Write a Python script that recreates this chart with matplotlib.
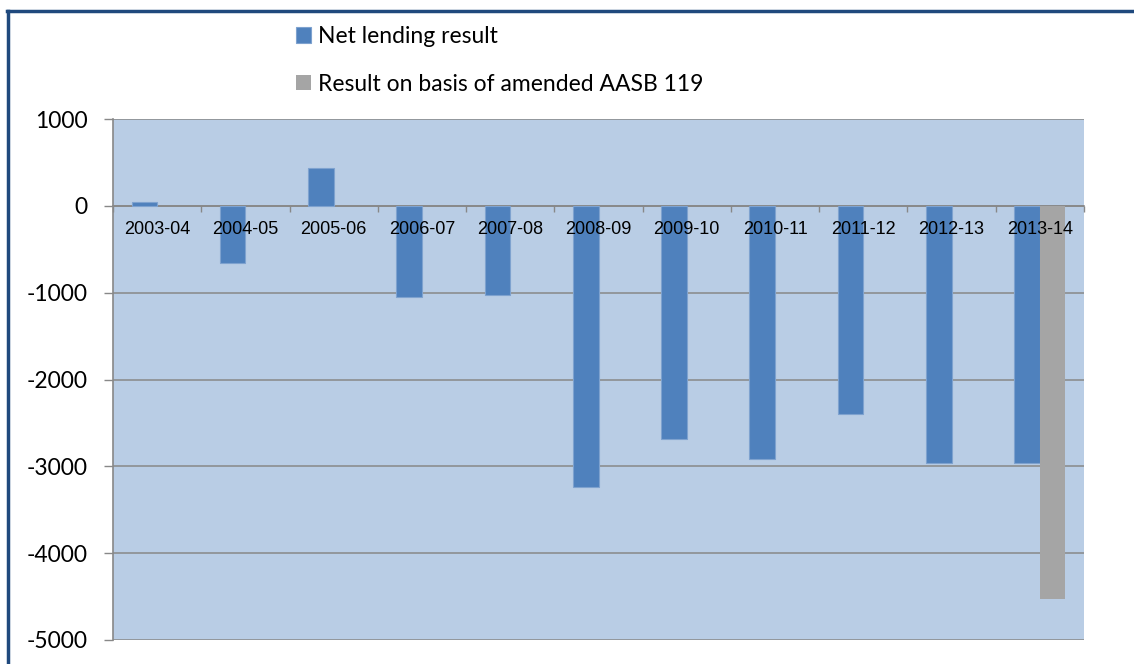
import matplotlib.pyplot as plt
import numpy as np
from matplotlib.lines import Line2D

years = ["2003-04", "2004-05", "2005-06", "2006-07", "2007-08", "2008-09",
         "2009-10", "2010-11", "2011-12", "2012-13", "2013-14"]
net_lending = [40, -662, 430, -1049, -1026, -3238, -2690, -2911, -2402, -2966, -2962]
amended = [np.nan] * 10 + [-4529]
yticks = [1000, 0, -1000, -2000, -3000, -4000, -5000]

BLUE = "#4F81BD"
GREY = "#A5A5A5"
BG = "#B9CDE5"
AXIS = "#888888"

fig = plt.figure(figsize=(11.34, 6.64), dpi=100)
ax = fig.add_axes([113 / 1134, 24 / 664, 971 / 1134, 521 / 664])
ax.set_facecolor(BG)

x = np.arange(len(years))
width = 0.29
b1 = ax.bar(x, net_lending, -width, align="edge", color=BLUE,
            edgecolor="#7EA2CF", linewidth=0.8, label="Net lending result", zorder=3)
b2 = ax.bar(x, amended, width, align="edge", color=GREY, linewidth=0,
            label="Result on basis of amended AASB 119", zorder=3)

ax.set_xlim(-0.5, len(years) - 0.5)
ax.set_ylim(-5000, 1000)
ax.set_yticks(yticks)
ax.set_yticklabels([str(v) for v in yticks], family="Lato", fontsize=16.5)
ax.tick_params(axis="y", length=6.5, width=1, color=AXIS, pad=12)
ax.yaxis.grid(True, color=AXIS, linewidth=1.1)
ax.set_axisbelow(True)

# category axis sits on the zero line
ax.spines["bottom"].set_position(("data", 0))
ax.spines["bottom"].set_color(AXIS)
ax.spines["bottom"].set_linewidth(1.2)
ax.spines["bottom"].set_zorder(2)
ax.spines["left"].set_color(AXIS)
ax.spines["left"].set_linewidth(1.2)
ax.spines["top"].set_visible(False)
ax.spines["right"].set_visible(False)

ax.set_xticks(x)
ax.set_xticklabels(years, family="Liberation Sans", fontsize=13)
ax.set_xticks(np.arange(len(years) + 1) - 0.5, minor=True)
ax.tick_params(axis="x", which="major", length=0, pad=11)
ax.tick_params(axis="x", which="minor", length=4, width=1, color=AXIS, direction="out")
# labels are drawn over the bars
ax.xaxis.set_zorder(5)

fig.legend(handles=[b1, b2], loc="upper left", bbox_to_anchor=(296 / 1134, 1 - 26 / 664),
           frameon=False, prop={"family": "Lato", "size": 16.5},
           handlelength=0.65, handleheight=0.65, handletextpad=0.3,
           labelspacing=1.17, borderpad=0, borderaxespad=0)

# dark blue frame on top and left edges
fig.add_artist(Line2D([8 / 1134, 8 / 1134], [0, 1 - 10.5 / 664], transform=fig.transFigure,
                      color="#1F497D", linewidth=2.5))
fig.add_artist(Line2D([6.5 / 1134, 1], [1 - 10.5 / 664, 1 - 10.5 / 664], transform=fig.transFigure,
                      color="#1F497D", linewidth=2.5))

fig.savefig("out.png", dpi=100)
